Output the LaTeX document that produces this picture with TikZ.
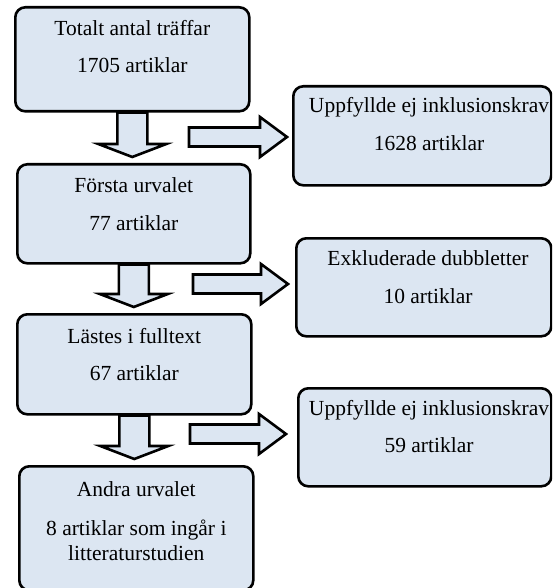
\documentclass[tikz,border=0pt]{standalone}
\usepackage{fontspec}
\setmainfont{Liberation Serif}
\usetikzlibrary{calc}
\definecolor{boxfill}{HTML}{DCE6F2}
\newcommand\darrow[2]{%
  \draw[barrow] ($(#1.south)+(-15,0)$) -- ($(#1.south |- #2.north)+(-15,-19)$) -- ($(#1.south |- #2.north)+(-34,-19)$) -- ($(#1.south |- #2.north)+(0,-6)$) -- ($(#1.south |- #2.north)+(34,-19)$) -- ($(#1.south |- #2.north)+(15,-19)$) -- ($(#1.south)+(15,0)$) -- cycle;}
\newcommand\rarrow[2]{%
  \draw[barrow] ($(#1)+(0,-9.5)$) -- ($(#2)+(-27,-9.5)$) -- ($(#2)+(-27,-20)$) -- (#2) -- ($(#2)+(-27,20)$) -- ($(#2)+(-27,9.5)$) -- ($(#1)+(0,9.5)$) -- cycle;}
\begin{document}
\begin{tikzpicture}[x=1pt,y=-1pt,
  box/.style={draw=black, line width=2.6pt, fill=boxfill, rounded corners=10pt, inner sep=0pt, anchor=north west},
  txt/.style={anchor=base, inner sep=0pt, font=\fontsize{21.5}{26}\selectfont},
  barrow/.style={draw=black, line width=2.6pt, fill=boxfill, line join=miter}]
\useasboundingbox (0,0) rectangle (552,588);
\clip (0,0) rectangle (552,588);
\fill[white] (0,0) rectangle (552,588);
% boxes
\node[box, minimum width=234pt, minimum height=104pt] (b1) at (14,6) {};
\node[box, minimum width=233pt, minimum height=99pt] (b2) at (16,163) {};
\node[box, minimum width=234pt, minimum height=100pt] (b3) at (16,313) {};
\node[box, minimum width=234pt, minimum height=124pt] (b4) at (18,465) {};
\node[box, minimum width=258pt, minimum height=99pt] (r1) at (292,85) {};
\node[box, minimum width=255pt, minimum height=98pt] (r2) at (295,237) {};
\node[box, minimum width=253pt, minimum height=98pt] (r3) at (297,387) {};
% down arrows
\darrow{b1}{b2}
\darrow{b2}{b3}
\darrow{b3}{b4}
% right arrows
\coordinate (s1) at (189,137);
\coordinate (e1) at ($(r1.west |- s1)+(-5,0)$);
\coordinate (s2) at (193,284);
\coordinate (e2) at ($(r2.west |- s2)+(-7,0)$);
\coordinate (s3) at (190,434);
\coordinate (e3) at ($(r3.west |- s3)+(-11,0)$);
\rarrow{s1}{e1}
\rarrow{s2}{e2}
\rarrow{s3}{e3}
% texts
\node[txt] (t1a) at ($(b1.north)+(0,30)$) {Totalt antal träffar};
\node[txt] (t1b) at ($(b1.north)+(0,67)$) {1705 artiklar};
\node[txt] (t2a) at ($(b2.north)+(0,29)$) {Första urvalet};
\node[txt] (t2b) at ($(b2.north)+(0,67)$) {77 artiklar};
\node[txt] (t3a) at ($(b3.north)+(0,30)$) {Lästes i fulltext};
\node[txt] (t3b) at ($(b3.north)+(0,67)$) {67 artiklar};
\node[txt] (t4a) at ($(b4.north)+(0,31)$) {Andra urvalet};
\node[txt] (t4b) at ($(b4.north)+(0,70)$) {8 artiklar som ingår i};
\node[txt] (t4c) at ($(b4.north)+(0,95)$) {litteraturstudien};
\node[txt] (u1a) at (429,113) {Uppfyllde ej inklusionskrav};
\node[txt] (u1b) at (429,151) {1628 artiklar};
\node[txt] (u2a) at (428,265) {Exkluderade dubbletter};
\node[txt] (u2b) at (428,303) {10 artiklar};
\node[txt] (u3a) at (429,415) {Uppfyllde ej inklusionskrav};
\node[txt] (u3b) at (429,452) {59 artiklar};
\end{tikzpicture}
\end{document}
